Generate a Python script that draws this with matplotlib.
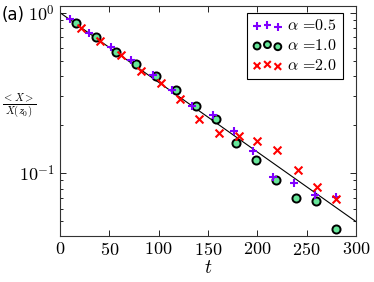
import numpy as np
import matplotlib
matplotlib.use("Agg")
import matplotlib.pyplot as plt
from matplotlib.ticker import FixedLocator, FuncFormatter, NullFormatter, LogLocator

plt.rcParams['mathtext.fontset'] = 'cm'
plt.rcParams['font.family'] = 'cmr10'
plt.rcParams['axes.formatter.use_mathtext'] = True

# data
t_a05 = [10, 30, 52, 72, 94, 114, 134, 155, 176, 196, 216, 237, 258, 280]
v_a05 = [0.908, 0.75, 0.610, 0.503, 0.406, 0.328, 0.263, 0.229, 0.184, 0.138, 0.094, 0.0866, 0.0725, 0.0714]

t_a10 = [16, 37, 57, 77, 97, 118, 138, 158, 178, 199, 219, 239, 259, 280]
v_a10 = [0.857, 0.704, 0.567, 0.480, 0.400, 0.327, 0.260, 0.217, 0.154, 0.121, 0.0909, 0.0698, 0.0665, 0.0447]

t_a20 = [21, 41, 62, 82, 102, 122, 141, 161, 181, 200, 220, 241, 260, 280]
v_a20 = [0.806, 0.665, 0.541, 0.432, 0.362, 0.290, 0.218, 0.178, 0.169, 0.159, 0.140, 0.105, 0.0818, 0.0691]

fit_t = [0, 300]
fit_rate = 0.01

labels = [r'$\alpha$ =0.5', r'$\alpha$ =1.0', r'$\alpha$ =2.0']
x_ticks = [0, 50, 100, 150, 200, 250, 300]

fig = plt.figure(figsize=(3.74, 2.82), dpi=100)
ax = fig.add_axes([0.160, 0.163, 0.792, 0.816])

tt = np.linspace(fit_t[0], fit_t[1], 200)
ax.plot(tt, np.exp(-fit_rate * tt), color='black', lw=0.8, zorder=1)

ax.scatter(t_a05, v_a05, marker='+', s=40, color='#8000ff', linewidths=1.5, label=labels[0], zorder=3)
ax.scatter(t_a10, v_a10, marker='o', s=34, facecolor='#66e699', edgecolor='black', linewidths=1.4, label=labels[1], zorder=2)
ax.scatter(t_a20, v_a20, marker='x', s=32, color='#ff0000', linewidths=1.5, label=labels[2], zorder=3)

ax.set_yscale('log')
ax.set_xlim(0, 300)
ax.set_ylim(0.0405, 1.1)
ax.xaxis.set_major_locator(FixedLocator(x_ticks))
ax.xaxis.set_major_formatter(FuncFormatter(lambda v, p: r'$%d$' % v))
ax.yaxis.set_major_locator(LogLocator(base=10))
ax.yaxis.set_major_formatter(FuncFormatter(lambda v, p: r'$10^{%d}$' % round(np.log10(v))))
ax.yaxis.set_minor_locator(LogLocator(base=10, subs=np.arange(2, 10)))
ax.yaxis.set_minor_formatter(NullFormatter())
ax.tick_params(which='both', direction='in', top=True, right=True, labelsize=13)
ax.tick_params(which='major', length=4, width=0.6)
ax.tick_params(which='minor', length=2, width=0.6)
for sp in ax.spines.values():
    sp.set_linewidth(0.8)
    sp.set_color('#333333')

ax.set_xlabel(r'$t$', fontsize=14, labelpad=1)
ax.set_ylabel(r'$\frac{<X>}{X(z_0)}$', fontsize=11, rotation=0, labelpad=0, ha='center', va='center')
ax.yaxis.set_label_coords(-0.135, 0.565)

leg = ax.legend(loc='upper right', scatterpoints=3, fontsize=11.5, frameon=True, fancybox=False,
                edgecolor='black', framealpha=1, handletextpad=0.3, borderpad=0.35,
                labelspacing=0.3, handlelength=1.9, borderaxespad=0, markerscale=0.85,
                bbox_to_anchor=(0.955, 0.97))
leg.get_frame().set_linewidth(0.8)

fig.text(0.005, 0.93, '(a)', fontsize=12, family='DejaVu Sans')

fig.savefig('out.png', dpi=100)
